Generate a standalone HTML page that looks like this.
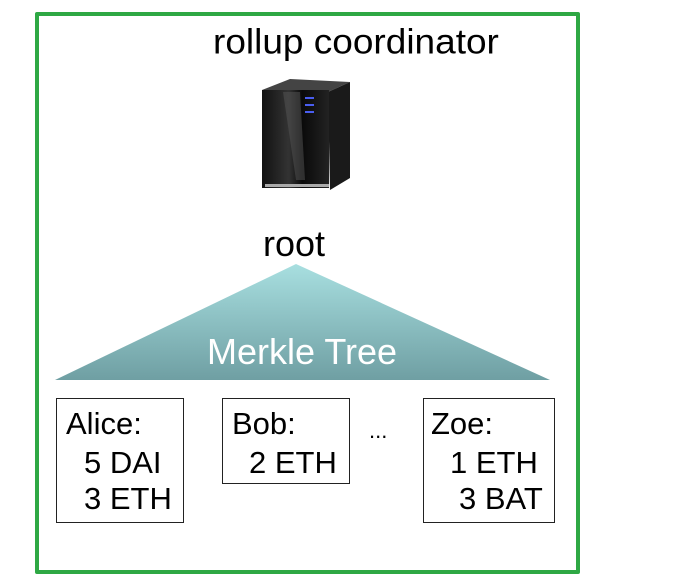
<!DOCTYPE html>
<html><head><style>
body{margin:0;width:700px;height:576px;background:#fff;overflow:hidden;position:relative;font-family:"Liberation Sans",sans-serif}
.t{position:absolute;white-space:pre;font-size:31px;color:#000;line-height:1}
.b{position:absolute;border:1.5px solid #222;background:#fff}
</style></head><body>
<div style="position:absolute;left:35px;top:12px;width:537px;height:554px;border:4px solid #2ea844;border-radius:2px"></div>
<div class="t" style="left:213px;top:24px;font-size:37px;transform:scaleY(0.95);transform-origin:0 0">rollup coordinator</div>
<svg style="position:absolute;left:0;top:0" width="700" height="576">
<defs>
<linearGradient id="g" x1="0" y1="0" x2="0" y2="1"><stop offset="0" stop-color="#a8dfe0"/><stop offset="1" stop-color="#6f9fa3"/></linearGradient>
<linearGradient id="s" x1="0" y1="0" x2="1" y2="0"><stop offset="0" stop-color="#111"/><stop offset="0.4" stop-color="#333"/><stop offset="0.6" stop-color="#0a0a0a"/><stop offset="1" stop-color="#222"/></linearGradient>
</defs>
<polygon points="262,90 290,79 350,82 328,92" fill="#444"/>
<polygon points="328,92 350,82 350,178 330,190" fill="#1a1a1a"/>
<rect x="262" y="90" width="67" height="98" fill="url(#s)"/>
<polygon points="283,92 300,92 305,180 296,180" fill="#555" opacity="0.5"/>
<rect x="305" y="97" width="9" height="2" fill="#4a5ef0"/>
<rect x="305" y="104" width="9" height="2" fill="#4a5ef0"/>
<rect x="305" y="111" width="9" height="2" fill="#4a5ef0"/>
<rect x="265" y="184" width="64" height="3" fill="#aaa"/>
<polygon points="296,264 55,380 550,380" fill="url(#g)"/>
<text x="302" y="364" text-anchor="middle" font-family="Liberation Sans" font-size="36" fill="#fff">Merkle Tree</text>
</svg>
<div class="t" style="left:263px;top:226px;font-size:36px">root</div>
<div class="b" style="left:56px;top:398px;width:126px;height:123px"></div>
<div class="b" style="left:222px;top:398px;width:126px;height:84px"></div>
<div class="b" style="left:423px;top:398px;width:130px;height:123px"></div>
<div class="t" style="left:66px;top:408px">Alice:</div>
<div class="t" style="left:84px;top:447px">5 DAI</div>
<div class="t" style="left:84px;top:483px">3 ETH</div>
<div class="t" style="left:232px;top:408px">Bob:</div>
<div class="t" style="left:249px;top:447px">2 ETH</div>
<div class="t" style="left:431px;top:408px">Zoe:</div>
<div class="t" style="left:450px;top:447px">1 ETH</div>
<div class="t" style="left:459px;top:483px">3 BAT</div>
<div class="t" style="left:369px;top:420px;font-size:22px">...</div>
</body></html>
